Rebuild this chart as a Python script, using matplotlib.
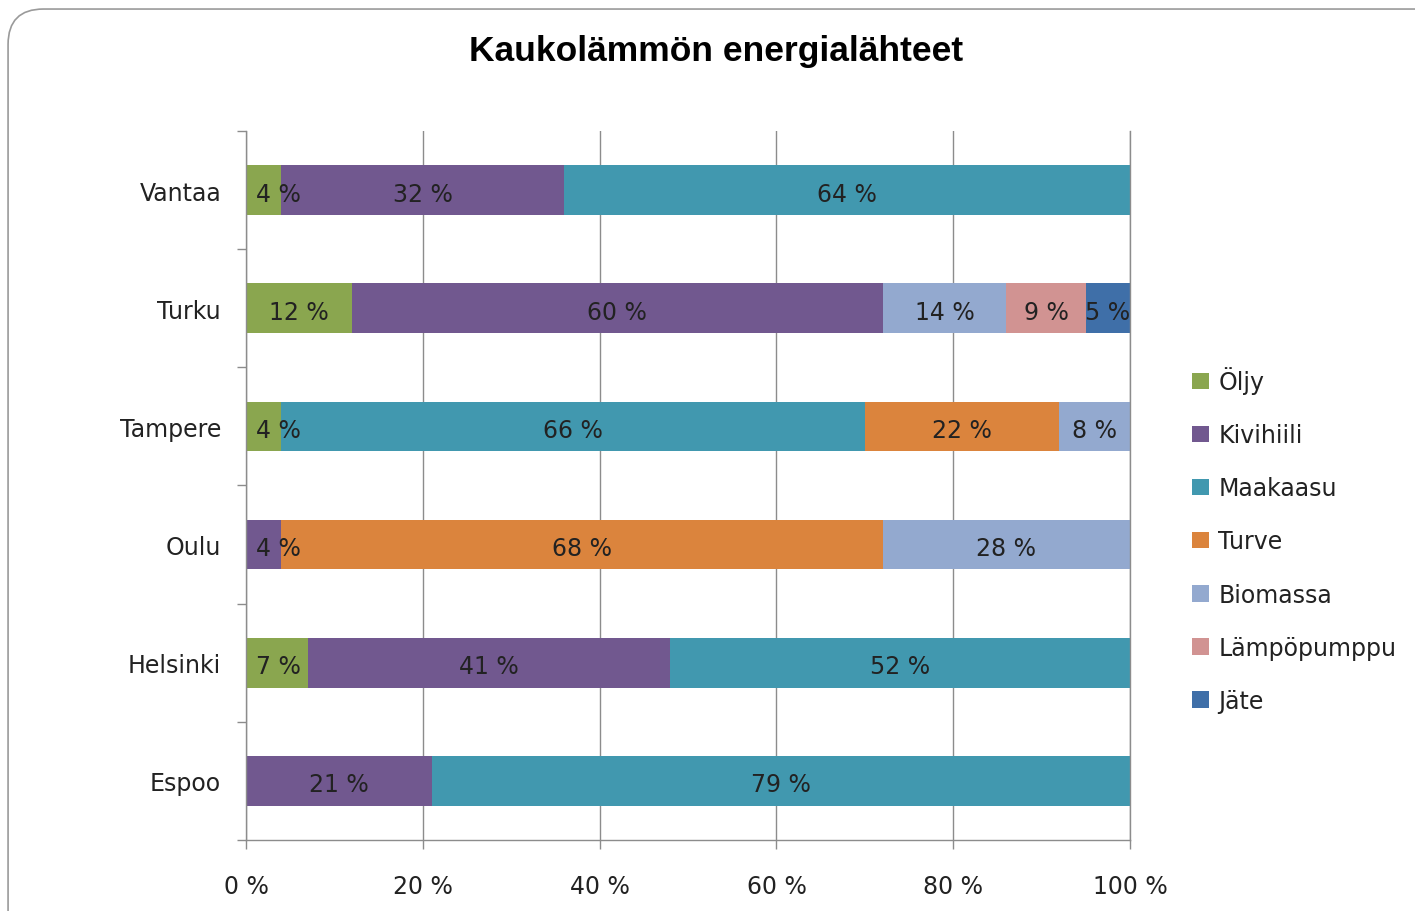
import numpy as np
import matplotlib.pyplot as plt
from matplotlib.patches import FancyBboxPatch

# Kaupungit alhaalta ylös (barh piirtää ensimmäisen alimmaksi)
kaupungit = ["Espoo", "Helsinki", "Oulu", "Tampere", "Turku", "Vantaa"]

lahteet = ["Öljy", "Kivihiili", "Maakaasu", "Turve", "Biomassa", "Lämpöpumppu", "Jäte"]
varit = ["#8AA64F", "#71588F", "#4198AF", "#DB843D", "#93A9CF", "#D19392", "#3F6FA8"]

# Osuudet (%) kaupungeittain, samassa järjestyksessä kuin kaupungit
oljy = [0, 7, 0, 4, 12, 4]
kivihiili = [21, 41, 4, 0, 60, 32]
maakaasu = [79, 52, 0, 66, 0, 64]
turve = [0, 0, 68, 22, 0, 0]
biomassa = [0, 0, 28, 8, 14, 0]
lampopumppu = [0, 0, 0, 0, 9, 0]
jate = [0, 0, 0, 0, 5, 0]

sarjat = [oljy, kivihiili, maakaasu, turve, biomassa, lampopumppu, jate]

plt.rcParams["font.family"] = "DejaVu Sans"
fig = plt.figure(figsize=(14.15, 9.12), dpi=100)

# Pyöristetty kehys kuvan ympärillä (oikea ja alareuna jäävät kuvan ulkopuolelle)
kehys = FancyBboxPatch((0.0057, -0.05), 1.05, 1.039,
                       boxstyle="round,pad=0,rounding_size=0.025",
                       transform=fig.transFigure, fill=False,
                       edgecolor="#9a9a9a", linewidth=1.2,
                       mutation_aspect=1415 / 912)
fig.patches.append(kehys)

ax = fig.add_axes([0.1739, 0.0779, 0.6247, 0.7774])

y = np.arange(len(kaupungit))
vasen = np.zeros(len(kaupungit))
for nimi, arvot, vari in zip(lahteet, sarjat, varit):
    arvot = np.array(arvot, dtype=float)
    ax.barh(y, arvot, left=vasen, height=0.42, color=vari, label=nimi, zorder=3)
    for i, (v, l) in enumerate(zip(arvot, vasen)):
        if v > 0:
            # kapeat otsikot pidetään piirtoalueen sisällä kuten Excelissä
            xk = max(l + v / 2, 3.7)
            ax.text(xk, y[i] - 0.03, f"{int(v)} %", ha="center",
                    va="center", fontsize=17, color="#222222", zorder=4)
    vasen += arvot

ax.set_xlim(0, 100)
ax.set_ylim(-0.5, len(kaupungit) - 0.5)

ax.set_xticks(np.arange(0, 101, 20))
ax.set_xticklabels([f"{t} %" for t in range(0, 101, 20)], fontsize=17,
                   color="#222222")
ax.set_yticks(y)
ax.set_yticklabels(kaupungit, fontsize=17, color="#222222")
ax.set_yticks(np.arange(-0.5, len(kaupungit)), minor=True)

ax.tick_params(axis="y", which="major", length=0, pad=18)
ax.tick_params(axis="y", which="minor", length=6.5, width=1, color="#8c8c8c",
               direction="out")
ax.tick_params(axis="x", length=6.5, width=1, color="#8c8c8c", pad=18)

ax.grid(axis="x", color="#8c8c8c", linewidth=1, zorder=0)
ax.spines["top"].set_visible(False)
for s in ["left", "bottom", "right"]:
    ax.spines[s].set_color("#8c8c8c")
    ax.spines[s].set_linewidth(1)
    ax.spines[s].set_zorder(5)

fig.text(0.506, 0.944, "Kaukolämmön energialähteet", ha="center", va="center",
         fontsize=25.5, fontweight="bold", family="Liberation Sans")

ax.legend(loc="center left", bbox_to_anchor=(0.8424, 0.4073),
          bbox_transform=fig.transFigure, frameon=False, fontsize=17,
          handlelength=0.7, handleheight=0.7, handletextpad=0.42,
          labelspacing=1.23, borderpad=0, borderaxespad=0,
          labelcolor="#222222")

fig.savefig("out.png", dpi=100)
